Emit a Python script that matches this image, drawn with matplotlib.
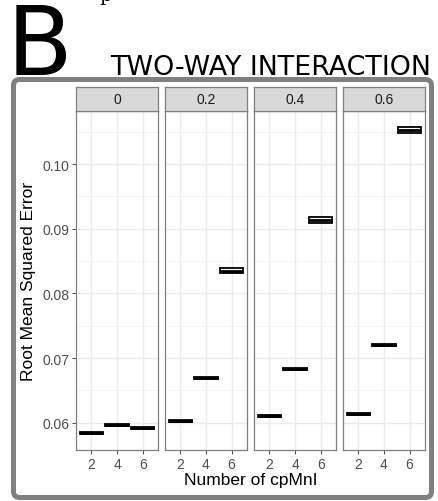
import matplotlib
matplotlib.use("Agg")
import matplotlib.pyplot as plt
from matplotlib.patches import FancyBboxPatch

# data: RMSE per facet (interaction strength) and number of cpMnI
facets = ["0", "0.2", "0.4", "0.6"]
n_cpmni = ["2", "4", "6"]
medians = [
    [0.0584, 0.0597, 0.0592],
    [0.0603, 0.0670, 0.0835],
    [0.0610, 0.0683, 0.0913],
    [0.0614, 0.0721, 0.1053],
]
half_iqr = [
    [0.00015, 0.00015, 0.00015],
    [0.00015, 0.00015, 0.00040],
    [0.00015, 0.00015, 0.00045],
    [0.00015, 0.00015, 0.00050],
]
y_ticks = [0.06, 0.07, 0.08, 0.09, 0.10]

W, H = 438, 502
fig = plt.figure(figsize=(W / 100, H / 100), dpi=100)
plt.rcParams["font.family"] = ["Liberation Sans", "DejaVu Sans"]

panel_x = [76, 165, 254, 343]
panel_w = 82
p_top, p_bot = 112, 451
strip_top = 88

def fx(px):
    return px / W

def fy(py):
    return 1 - py / H

for i, facet in enumerate(facets):
    ax = fig.add_axes([fx(panel_x[i]), fy(p_bot), panel_w / W, (p_bot - p_top) / H])
    stats = []
    for j in range(3):
        m = medians[i][j]
        h = half_iqr[i][j]
        stats.append(dict(med=m, q1=m - h, q3=m + h, whislo=m - h, whishi=m + h, fliers=[]))
    ax.bxp(stats, positions=[1, 2, 3], widths=0.9, patch_artist=True, showcaps=False,
           boxprops=dict(facecolor="white", edgecolor="black", linewidth=1.3),
           medianprops=dict(color="black", linewidth=2.0),
           whiskerprops=dict(color="black", linewidth=1.0), zorder=3)
    ax.set_xlim(0.4, 3.6)
    ax.set_ylim(0.0558, 0.1082)
    ax.set_xticks([1, 2, 3])
    ax.set_xticklabels(n_cpmni)
    ax.set_yticks(y_ticks)
    ax.set_yticks([0.065, 0.075, 0.085, 0.095, 0.105], minor=True)
    ax.grid(True, which="major", color="#EBEBEB", linewidth=1.0)
    ax.grid(True, which="minor", axis="y", color="#F2F2F2", linewidth=0.6)
    ax.set_axisbelow(True)
    for s in ax.spines.values():
        s.set_color("#7F7F7F")
        s.set_linewidth(0.9)
    ax.tick_params(axis="both", which="major", length=3, width=0.8, color="#555555",
                   labelsize=10, labelcolor="#4D4D4D", pad=2)
    ax.tick_params(axis="y", which="minor", length=0)
    if i == 0:
        ax.set_yticklabels(["0.06", "0.07", "0.08", "0.09", "0.10"])
    else:
        ax.tick_params(axis="y", which="major", length=0, labelleft=False)

    # facet strip
    sax = fig.add_axes([fx(panel_x[i]), fy(p_top), panel_w / W, (p_top - strip_top) / H])
    sax.set_facecolor("#D9D9D9")
    sax.set_xticks([])
    sax.set_yticks([])
    for s in sax.spines.values():
        s.set_color("#7F7F7F")
        s.set_linewidth(0.9)
    sax.text(0.5, 0.5, facet, ha="center", va="center", fontsize=10, color="#1A1A1A",
             transform=sax.transAxes)

fig.text(fx(29), fy((p_top + p_bot) / 2), "Root Mean Squared Error", rotation=90,
         ha="center", va="center", fontsize=12.5, color="black")
fig.text(fx(250.5), fy(481), "Number of cpMnI", ha="center", va="center",
         fontsize=12.5, color="black")

# outer rounded frame
frame = FancyBboxPatch((13.5, H - 498.5), 418, 418, boxstyle="round,pad=0,rounding_size=6",
                       transform=None, facecolor="none", edgecolor="#808080", linewidth=3.6)
fig.patches.append(frame)

fig.text(fx(7), fy(75), "B", fontsize=69, family="DejaVu Sans", ha="left", va="baseline")
fig.text(fx(110), fy(75), "TWO-WAY INTERACTION", fontsize=19.4, family="DejaVu Sans",
         ha="left", va="baseline")
fig.text(fx(99), fy(1), "p", fontsize=14, family="DejaVu Serif", ha="left", va="baseline")

fig.savefig("out.png", dpi=100)
